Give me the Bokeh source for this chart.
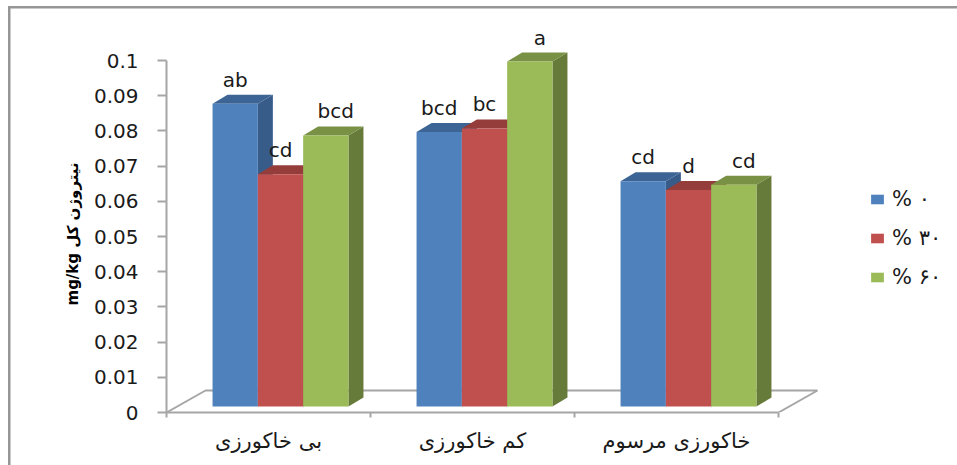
from bokeh.plotting import figure
from bokeh.embed import file_html
from bokeh.resources import INLINE
from bokeh.models import (Range1d, FixedTicker, LinearAxis, Legend, LegendItem,
                          ColumnDataSource, Title)

categories = ["بی خاکورزی", "کم خاکورزی", "خاکورزی مرسوم"]
series_names = ["% ۰", "% ۳۰", "% ۶۰"]
values_0 = [0.086, 0.078, 0.064]
values_30 = [0.066, 0.079, 0.0615]
values_60 = [0.077, 0.098, 0.063]
letters_0 = ["ab", "bcd", "cd"]
letters_30 = ["cd", "bc", "d"]
letters_60 = ["bcd", "a", "cd"]
y_ticks = [0, 0.01, 0.02, 0.03, 0.04, 0.05, 0.06, 0.07, 0.08, 0.09, 0.1]
y_labels = {0: "0", 0.01: "0.01", 0.02: "0.02", 0.03: "0.03", 0.04: "0.04", 0.05: "0.05",
            0.06: "0.06", 0.07: "0.07", 0.08: "0.08", 0.09: "0.09", 0.1: "0.1"}

front = ["#4f81bd", "#c0504d", "#9bbb59"]
top_c = ["#3c6595", "#943d3a", "#789145"]
side = ["#375c8a", "#833735", "#667a3a"]
GREY = "#a6a6a6"
FRAME = "#969696"

W, H = 957, 465
LEFT, BOTTOM = 166, 53
PX_X = 204.0          # pixels per category
PX_Y = 3520.0         # pixels per unit of value
DX, DY = 15 / PX_X, 9 / PX_Y
BAR_W = 45.3 / PX_X
BASE = 6 / PX_Y
SHIFT = 12 / PX_X
FLOOR_DX, FLOOR_DY = 39 / PX_X, 22 / PX_Y
LETTER_SHIFT = [0, 0, 10 / PX_X]

p = figure(width=W, height=H, output_backend="svg", toolbar_location=None,
           x_axis_location=None, y_axis_location=None,
           x_range=Range1d(-0.5, -0.5 + (W - LEFT) / PX_X),
           y_range=Range1d(0, (H - BOTTOM) / PX_Y),
           min_border_left=LEFT, min_border_right=0, min_border_top=0, min_border_bottom=BOTTOM)
p.outline_line_color = None
p.grid.visible = False
p.background_fill_alpha = 0
p.border_fill_alpha = 0
# outer frame of the picture: top and left rules only, as the reference is cropped
p.styles = {
    "background": (f"linear-gradient({FRAME},{FRAME}) 9px 6px / 948px 2.5px no-repeat,"
                   f"linear-gradient({FRAME},{FRAME}) 8px 6px / 2.5px 459px no-repeat,"
                   "white")
}

# floor
p.line([-0.5, -0.5 + FLOOR_DX, 2.5 + FLOOR_DX, 2.5], [0, FLOOR_DY, FLOOR_DY, 0],
       line_color=GREY, line_width=2)

legend_items = []
all_vals = [values_0, values_30, values_60]
all_lets = [letters_0, letters_30, letters_60]
for s in range(3):
    vals = all_vals[s]
    xs = [i + SHIFT + (s - 1) * BAR_W for i in range(3)]
    left = [x - BAR_W / 2 for x in xs]
    right = [x + BAR_W / 2 for x in xs]
    tops = [BASE + v for v in vals]
    p.patches([[r, r + DX, r + DX, r] for r, t in zip(right, tops)],
              [[BASE, BASE + DY, t + DY, t] for t in tops],
              fill_color=side[s], line_color=None)
    p.patches([[l, l + DX, r + DX, r] for l, r in zip(left, right)],
              [[t, t + DY, t + DY, t] for t in tops],
              fill_color=top_c[s], line_color=None)
    r = p.vbar(x=xs, width=BAR_W, bottom=BASE, top=tops, fill_color=front[s], line_color=None)
    legend_items.append(LegendItem(label=series_names[s], renderers=[r]))
    src = ColumnDataSource(dict(x=[x + LETTER_SHIFT[s] for x in xs], y=[t + DY for t in tops], t=all_lets[s]))
    p.text(x="x", y="y", text="t", source=src, text_align="center", text_baseline="bottom",
           text_font={"value": "DejaVu Sans"}, text_font_size="20px", text_color="#1a1a1a", y_offset=-3)

# y axis
yax = LinearAxis(ticker=FixedTicker(ticks=y_ticks), major_label_overrides=y_labels,
                 bounds=(0, 0.1), axis_line_color=GREY, axis_line_width=2,
                 major_tick_line_color=GREY, major_tick_line_width=2,
                 major_tick_out=9, major_tick_in=0, minor_tick_out=0, minor_tick_in=0,
                 major_label_standoff=19,
                 major_label_text_font="DejaVu Sans", major_label_text_font_size="20px",
                 major_label_text_color="#1a1a1a")
p.add_layout(yax, "left")

# y title
p.add_layout(Title(text="mg/kg نیتروژن کل", align="left", offset=107, standoff=17,
                   text_font="DejaVu Sans", text_font_style="bold",
                   text_font_size="15px", text_color="black"), "left")

# x axis
xax = LinearAxis(ticker=FixedTicker(ticks=[0, 1, 2], minor_ticks=[-0.5, 0.5, 1.5, 2.5]),
                 major_label_overrides={0: categories[0], 1: categories[1], 2: categories[2]},
                 bounds=(-0.5, 2.5), axis_line_color=GREY, axis_line_width=2,
                 major_tick_out=0, major_tick_in=0, minor_tick_out=5, minor_tick_in=0,
                 minor_tick_line_color=GREY, minor_tick_line_width=2,
                 major_label_standoff=11,
                 major_label_text_font="DejaVu Sans", major_label_text_font_size="21px",
                 major_label_text_color="#1a1a1a")
p.add_layout(xax, "below")

# legend
leg = Legend(items=legend_items, location=(703, 123), orientation="vertical",
             background_fill_alpha=0, border_line_color=None,
             label_text_font="DejaVu Sans", label_text_font_size="21px", label_text_color="#1a1a1a",
             glyph_width=16, glyph_height=12, spacing=15, padding=0, margin=0, label_standoff=7,
             label_height=20)
p.add_layout(leg, "center")

open("out.html", "w").write(file_html(p, INLINE))
